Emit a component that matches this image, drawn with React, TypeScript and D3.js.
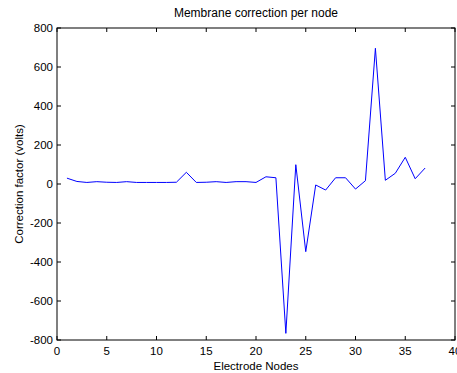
import React from "react";
import * as d3 from "d3";

const nodes = Array.from({ length: 37 }, (_, i) => i + 1);
const corrections = [
  30, 13, 8, 12, 9, 8, 12, 8, 8, 8, 8, 9, 60, 8, 9, 12, 8, 12, 12, 8,
  37, 32, -766, 99, -347, -5, -31, 32, 32, -26, 17, 696, 19, 55, 137, 27, 82,
];
const xTicks = [0, 5, 10, 15, 20, 25, 30, 35, 40];
const yTicks = [-800, -600, -400, -200, 0, 200, 400, 600, 800];

const W = 457;
const H = 373;
const M = { left: 57, right: 455, top: 28, bottom: 340 };
const FONT = "'Liberation Sans', Arial, Helvetica, sans-serif";

export default function App() {
  const x = d3.scaleLinear().domain([0, 40]).range([M.left, M.right]);
  const y = d3.scaleLinear().domain([-800, 800]).range([M.bottom, M.top]);
  const line = d3
    .line<number>()
    .x((_, i) => x(nodes[i]))
    .y((d) => y(d));
  const tl = 4;
  const fs = 11.5;
  return (
    <svg
      width={W}
      height={H}
      style={{ position: "absolute", left: 0, top: 0, background: "#fff" }}
      fontFamily={FONT}
    >
      <rect x={0} y={0} width={W} height={H} fill="#fff" />
      <path d={line(corrections) || ""} fill="none" stroke="#0000ff" strokeWidth={1} />
      <rect
        x={M.left}
        y={M.top}
        width={M.right - M.left}
        height={M.bottom - M.top}
        fill="none"
        stroke="#000"
        strokeWidth={1}
      />
      {xTicks.map((t) => (
        <g key={"x" + t}>
          <line x1={x(t)} x2={x(t)} y1={M.bottom} y2={M.bottom - tl} stroke="#000" />
          <line x1={x(t)} x2={x(t)} y1={M.top} y2={M.top + tl} stroke="#000" />
          <text x={x(t)} y={M.bottom + 15} fontSize={fs} textAnchor="middle" fill="#000">
            {t}
          </text>
        </g>
      ))}
      {yTicks.map((t) => (
        <g key={"y" + t}>
          <line x1={M.left} x2={M.left + tl} y1={y(t)} y2={y(t)} stroke="#000" />
          <line x1={M.right} x2={M.right - tl} y1={y(t)} y2={y(t)} stroke="#000" />
          <text x={M.left - 4} y={y(t) + 4} fontSize={fs} textAnchor="end" fill="#000">
            {t}
          </text>
        </g>
      ))}
      <text x={(M.left + M.right) / 2} y={17} fontSize={12} textAnchor="middle" fill="#000">
        Membrane correction per node
      </text>
      <text x={(M.left + M.right) / 2} y={370} fontSize={fs} textAnchor="middle" fill="#000">
        Electrode Nodes
      </text>
      <text
        transform={`translate(23, ${(M.top + M.bottom) / 2}) rotate(-90)`}
        fontSize={fs}
        textAnchor="middle"
        fill="#000"
      >
        Correction factor (volts)
      </text>
    </svg>
  );
}
